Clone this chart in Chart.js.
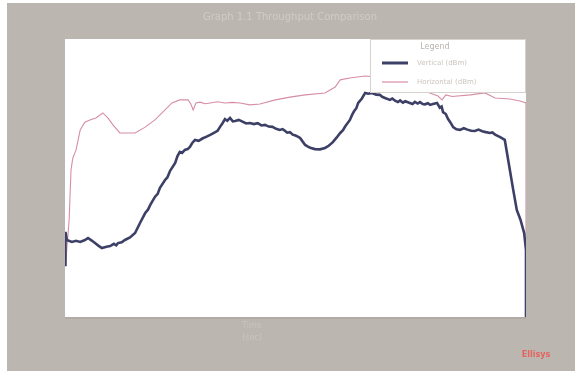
<!DOCTYPE html>
<html lang="en">
<head>
<meta charset="UTF-8">
<title>Throughput chart</title>
<script src="https://cdn.jsdelivr.net/npm/chart.js"></script>
<style>
  html, body { margin: 0; padding: 0; background: #ffffff; }
  #wrap { width: 575px; height: 371px; }
</style>
</head>
<body>
<div id="wrap"><canvas id="chart" width="575" height="371"></canvas></div>
<script>
// series (x: 0-100 across the plot, y: 0-100 up the plot)
const darkX = [
  0, 0.1, 0.4, 1.5, 2.4, 3.3, 4.2, 5.0, 5.8, 6.5,
  7.3, 8.0, 9.0, 9.8, 10.6, 11.1, 11.5, 12.3, 13.0, 14.1,
  15.2, 16.3, 17.4, 18.0, 18.5, 19.5, 20.1, 20.6, 21.7, 22.2,
  22.8, 23.9, 24.4, 24.9, 25.4, 26.0, 26.6, 27.1, 27.6, 28.2,
  29.0, 29.8, 30.6, 31.5, 32.5, 33.1, 33.6, 34.2, 34.7, 35.2,
  35.8, 36.4, 36.9, 37.7, 38.5, 39.3, 40.1, 41.0, 41.8, 42.6,
  43.4, 44.2, 45.0, 45.8, 46.6, 47.2, 47.7, 48.2, 48.8, 49.4,
  50.0, 50.5, 51.0, 51.6, 52.1, 52.7, 53.2, 54.2, 55.3, 56.4,
  57.2, 58.1, 58.9, 59.7, 60.3, 60.8, 61.8, 62.3, 62.7, 63.2,
  63.6, 64.4, 65.1, 65.8, 66.6, 67.5, 68.3, 68.8, 69.4, 70.5,
  71.0, 71.6, 72.2, 72.7, 73.3, 73.8, 74.8, 75.4, 75.9, 76.5,
  77.0, 77.6, 78.1, 78.7, 79.2, 79.8, 80.7, 81.3, 81.7, 82.0,
  82.6, 83.1, 83.6, 84.2, 84.9, 85.7, 86.5, 87.3, 88.1, 88.9,
  89.7, 90.5, 91.3, 92.2, 92.7, 93.3, 94.4, 95.4, 96.5, 97.2,
  98.0, 98.8, 99.6, 100, 100
];
const darkY = [
  18.7, 30.6, 27.7, 27.0, 27.4, 27.0, 27.6, 28.4, 27.5, 26.6,
  25.6, 24.8, 25.3, 25.5, 26.3, 25.8, 26.6, 26.9, 27.7, 28.6,
  30.2, 33.9, 37.4, 38.6, 40.3, 43.2, 44.3, 46.5, 49.3, 50.2,
  52.6, 55.4, 57.9, 59.4, 59.0, 60.1, 60.4, 61.2, 62.6, 63.7,
  63.4, 64.2, 64.8, 65.5, 66.4, 67.0, 68.3, 69.8, 71.2, 70.6,
  71.6, 70.4, 70.5, 70.9, 70.3, 69.6, 69.8, 69.4, 69.7, 68.9,
  69.1, 68.5, 68.4, 67.7, 67.3, 67.6, 67.0, 66.3, 66.5, 65.6,
  65.3, 64.9, 64.4, 63.0, 61.9, 61.3, 60.9, 60.4, 60.3, 60.8,
  61.6, 62.9, 64.5, 66.2, 67.2, 68.6, 70.9, 72.8, 74.0, 75.1,
  77.0, 78.6, 80.6, 80.3, 80.6, 80.0, 79.9, 79.2, 78.8, 78.1,
  78.6, 77.8, 77.3, 77.9, 77.1, 77.6, 77.0, 76.6, 77.4, 76.8,
  77.3, 76.6, 76.5, 76.9, 76.3, 76.6, 77.0, 75.3, 75.7, 73.7,
  73.0, 71.2, 70.0, 68.3, 67.5, 67.3, 67.9, 67.4, 67.0, 66.9,
  67.4, 66.8, 66.5, 66.2, 66.4, 65.6, 64.7, 63.7, 52.9, 46.0,
  38.5, 35.0, 30.2, 24.1, 0
];

const pinkX = [
  0, 0.2, 0.9, 1.3, 1.7, 2.4, 3.3, 4.3, 5.4, 6.7,
  8.2, 9.3, 10.4, 11.9, 13.7, 15.2, 17.4, 19.5, 21.7, 23.2,
  24.9, 26.7, 27.3, 27.8, 28.4, 29.3, 30.4, 31.5, 33.0, 34.7,
  36.3, 38.0, 40.1, 42.3, 45.6, 48.8, 52.1, 56.4, 58.6, 59.7,
  61.8, 65.1, 68.0, 72.5, 76.8, 80.9, 81.8, 82.6, 84.0, 87.9,
  91.1, 93.3, 96.5, 98.7, 100, 100
];
const pinkY = [
  20.0, 20.5, 34.9, 52.9, 57.2, 60.1, 67.3, 70.1, 70.9, 71.6,
  73.4, 71.6, 69.1, 66.2, 66.2, 66.2, 68.3, 70.9, 74.5, 77.0,
  78.1, 78.1, 76.6, 74.5, 77.0, 77.3, 76.7, 77.0, 77.4, 77.0,
  77.2, 77.0, 76.3, 76.6, 78.1, 79.1, 79.9, 80.6, 82.7, 85.3,
  86.0, 86.7, 86.3, 84.6, 82.0, 79.5, 78.1, 79.9, 79.3, 79.9,
  80.6, 78.8, 78.4, 77.7, 77.0, 0
];

const seriesNames = ['Vertical (dBm)', 'Horizontal (dBm)'];
const titleText = 'Graph 1.1 Throughput Comparison';
const legendTitle = 'Legend';
const xTitle = ['Time', '(sec)'];
const stampText = 'Ellisys';

const pts = (xs, ys) => xs.map((x, i) => ({ x: x, y: ys[i] }));

const frame = {
  id: 'frame',
  beforeDraw(chart) {
    const c = chart.ctx, a = chart.chartArea;
    c.save();
    c.fillStyle = '#ffffff';
    c.fillRect(0, 0, chart.width, chart.height);
    c.fillStyle = '#bcb6b1';
    c.fillRect(7, 3, chart.width - 7, chart.height - 3);
    c.fillStyle = '#b1aba6';
    c.fillRect(a.left, a.bottom, a.right - a.left, 2);
    c.fillStyle = '#ffffff';
    c.fillRect(a.left, a.top, a.right - a.left, a.bottom - a.top);
    c.textAlign = 'center';
    c.textBaseline = 'middle';
    c.fillStyle = '#d0cbc6';
    c.font = '10px "DejaVu Sans"';
    c.fillText(titleText, 290, 17);
    c.fillStyle = '#c9c4bf';
    c.font = '8px "DejaVu Sans"';
    c.fillText(xTitle[0], 252, 326);
    c.fillText(xTitle[1], 252, 338);
    c.fillStyle = '#e46460';
    c.font = 'bold 8px "DejaVu Sans"';
    c.fillText(stampText, 536, 355);
    c.restore();
  },
  afterDatasetsDraw(chart) {
    const c = chart.ctx, a = chart.chartArea;
    const bx = 370, by = a.top, bw = a.right - bx, bh = 54;
    c.save();
    c.fillStyle = '#ffffff';
    c.fillRect(bx, by, bw, bh);
    c.strokeStyle = '#d6d2ce';
    c.lineWidth = 1;
    c.strokeRect(bx + 0.5, by + 0.5, bw - 1, bh - 1);
    c.textBaseline = 'middle';
    c.textAlign = 'center';
    c.fillStyle = '#b8b3ae';
    c.font = '8px "DejaVu Sans"';
    c.fillText(legendTitle, 435, by + 8);
    c.textAlign = 'left';
    chart.data.datasets.forEach((ds, i) => {
      const y = by + 24 + i * 19;
      c.strokeStyle = ds.borderColor;
      c.lineWidth = i === 0 ? 3 : 1.2;
      c.beginPath();
      c.moveTo(382, y);
      c.lineTo(408, y);
      c.stroke();
      c.fillStyle = '#cac5c0';
      c.font = '7px "DejaVu Sans"';
      c.fillText(ds.label, 417, y);
    });
    c.restore();
  }
};

new Chart(document.getElementById('chart'), {
  type: 'line',
  data: {
    datasets: [
      { label: seriesNames[0], data: pts(darkX, darkY), borderColor: '#3d4066', borderWidth: 2.6, pointRadius: 0, tension: 0 },
      { label: seriesNames[1], data: pts(pinkX, pinkY), borderColor: '#d68ea6', borderWidth: 1.1, pointRadius: 0, tension: 0 }
    ]
  },
  options: {
    responsive: false,
    devicePixelRatio: 1,
    animation: false,
    layout: { padding: { left: 65, right: 49, top: 39, bottom: 54 } },
    plugins: { legend: { display: false }, tooltip: { enabled: false }, title: { display: false } },
    scales: {
      x: { type: 'linear', min: 0, max: 100, display: false },
      y: { min: 0, max: 100, display: false }
    }
  },
  plugins: [frame]
});
</script>
</body>
</html>
